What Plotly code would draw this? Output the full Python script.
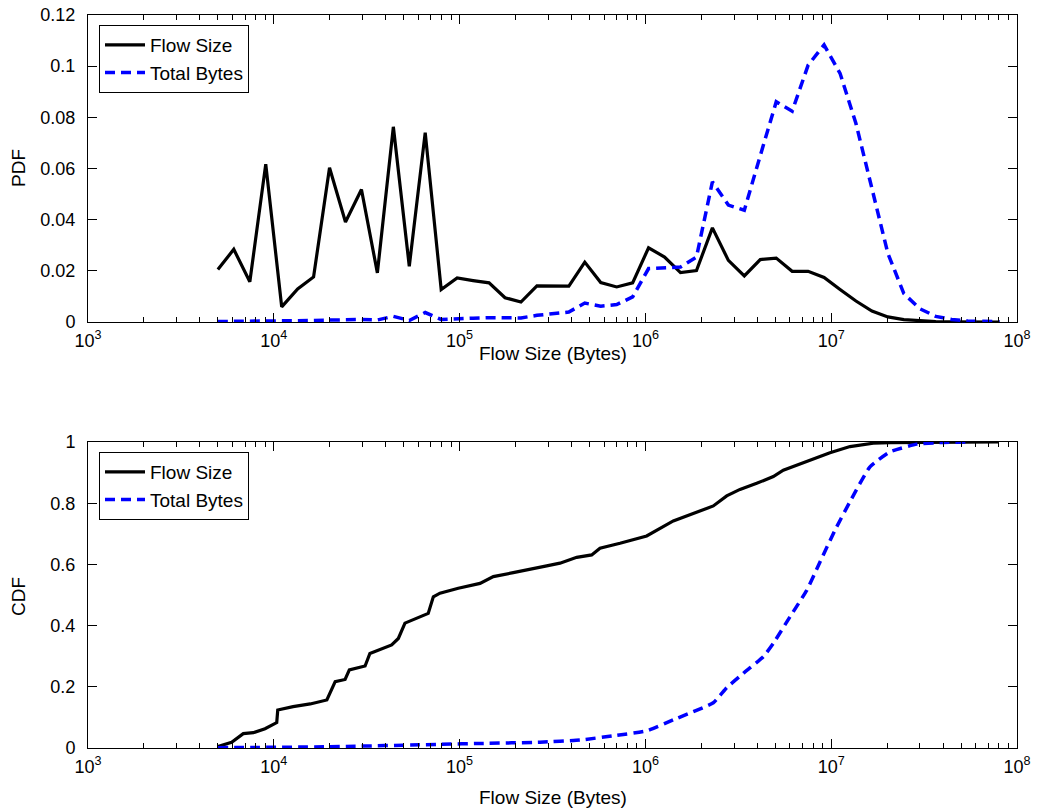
import plotly.graph_objects as go

# ---------------- data ----------------
pdf_x = [5000, 6090, 7430, 9050, 11030, 13440, 16370, 19950, 24310, 29630,
         36100, 44000, 53600, 65300, 79600, 97000, 118200, 144100, 175600, 213900,
         260700, 317700, 387200, 471800, 574900, 700600, 853700, 1040000, 1268000, 1545000,
         1883000, 2294000, 2796000, 3407000, 4151000, 5059000, 6165000, 7512000, 9155000, 11160000,
         13590000, 16570000, 20190000, 24600000, 29980000, 36530000, 44520000, 54250000, 66110000, 80560000]
pdf_flow = [0.0205, 0.0284, 0.0157, 0.0617, 0.0059, 0.0129, 0.0176, 0.0603, 0.0391, 0.0518,
            0.0192, 0.0763, 0.0218, 0.0740, 0.0127, 0.0172, 0.0162, 0.0153, 0.0095, 0.0078,
            0.0141, 0.0142, 0.0140, 0.0234, 0.0154, 0.0137, 0.0153, 0.0290, 0.0254, 0.0193,
            0.0201, 0.0368, 0.0241, 0.0180, 0.0244, 0.0250, 0.0198, 0.0198, 0.0174, 0.0127,
            0.0082, 0.0043, 0.0020, 0.0009, 0.0004, 0.0002, 0.0001, 0.0000, 0.0000, 0.0000]
pdf_bytes = [0.0002, 0.0002, 0.0003, 0.0003, 0.0004, 0.0005, 0.0006, 0.0008, 0.0009, 0.0010,
             0.0008, 0.0022, 0.0006, 0.0037, 0.0010, 0.0014, 0.0015, 0.0017, 0.0016, 0.0016,
             0.0026, 0.0033, 0.0039, 0.0074, 0.0062, 0.0068, 0.0098, 0.0209, 0.0213, 0.0215,
             0.0254, 0.0548, 0.0457, 0.0437, 0.0650, 0.0861, 0.0824, 0.1004, 0.1083, 0.0972,
             0.0776, 0.0515, 0.0268, 0.0111, 0.0052, 0.0022, 0.0010, 0.0004, 0.0002, 0.0001]

cdf_flow_x = [5000, 5930, 6850, 7760, 8970, 10370, 10500, 12700, 15700, 19300,
              21400, 24200, 25500, 31000, 32900, 43100, 46800, 50800, 67800, 72200,
              78400, 98400, 128800, 151900, 194500, 260000, 294300, 347000, 427000, 514000,
              569600, 730000, 1016000, 1413000, 1810000, 2320000, 2739000, 3229000, 3972000, 4880000,
              5524000, 7382000, 9851000, 12620000, 16850000, 20730000, 80000000]
cdf_flow_y = [0.005, 0.019, 0.047, 0.050, 0.063, 0.083, 0.124, 0.135, 0.144, 0.157,
              0.217, 0.224, 0.255, 0.268, 0.309, 0.337, 0.358, 0.408, 0.440, 0.494,
              0.506, 0.522, 0.538, 0.560, 0.573, 0.587, 0.595, 0.604, 0.623, 0.631,
              0.653, 0.669, 0.693, 0.742, 0.767, 0.791, 0.824, 0.845, 0.865, 0.887,
              0.908, 0.936, 0.965, 0.985, 0.996, 0.998, 1.0]

cdf_bytes_x = [5000, 20000, 78400, 134200, 270800, 444600, 671800, 1016000, 1413000, 2320000,
               2739000, 3365000, 4311000, 4880000, 6002000, 7382000, 8704000, 10480000, 12620000, 16170000,
               20730000, 28860000, 38520000, 53620000]
cdf_bytes_y = [0.001, 0.004, 0.012, 0.015, 0.019, 0.026, 0.040, 0.056, 0.092, 0.148,
               0.197, 0.244, 0.298, 0.342, 0.429, 0.515, 0.608, 0.712, 0.805, 0.919,
               0.968, 0.993, 0.998, 1.0]

x_tickvals = [1e3, 1e4, 1e5, 1e6, 1e7, 1e8]
x_ticktext = ["10<sup>3</sup>", "10<sup>4</sup>", "10<sup>5</sup>", "10<sup>6</sup>",
              "10<sup>7</sup>", "10<sup>8</sup>"]
x_minor = [m * 10 ** e for e in range(3, 8) for m in range(2, 10)]
pdf_ticks = [0, 0.02, 0.04, 0.06, 0.08, 0.1, 0.12]
pdf_ticktext = ["0", "0.02", "0.04", "0.06", "0.08", "0.1", "0.12"]
cdf_ticks = [0, 0.2, 0.4, 0.6, 0.8, 1]
cdf_ticktext = ["0", "0.2", "0.4", "0.6", "0.8", "1"]

x_title = "Flow Size (Bytes)"
pdf_title = "PDF"
cdf_title = "CDF"

# ---------------- figure ----------------
W, H = 1038, 811
FONT = "Liberation Sans, Arial, Helvetica, sans-serif"
BLUE = "#0000ff"
DASH = "10px,6px"

fig = go.Figure()
fig.add_trace(go.Scatter(x=pdf_x, y=pdf_flow, mode="lines", name="Flow Size",
                         line=dict(color="black", width=3.2), xaxis="x", yaxis="y",
                         legend="legend"))
fig.add_trace(go.Scatter(x=pdf_x, y=pdf_bytes, mode="lines", name="Total Bytes",
                         line=dict(color=BLUE, width=3.5, dash=DASH), xaxis="x", yaxis="y",
                         legend="legend"))
fig.add_trace(go.Scatter(x=cdf_flow_x, y=cdf_flow_y, mode="lines", name="Flow Size",
                         line=dict(color="black", width=3.2), xaxis="x2", yaxis="y2",
                         legend="legend2"))
fig.add_trace(go.Scatter(x=cdf_bytes_x, y=cdf_bytes_y, mode="lines", name="Total Bytes",
                         line=dict(color=BLUE, width=3.5, dash=DASH, shape="spline", smoothing=0.4),
                         xaxis="x2", yaxis="y2", legend="legend2"))

xdom = [88 / W, 1017 / W]


def xaxis_common(anchor):
    return dict(
        type="log", range=[3, 8], domain=xdom, anchor=anchor,
        tickmode="array", tickvals=x_tickvals, ticktext=x_ticktext,
        ticks="inside", ticklen=9, tickwidth=1, tickcolor="black",
        minor=dict(tickmode="array", tickvals=x_minor, ticks="inside", ticklen=5,
                   tickwidth=1, tickcolor="black", showgrid=False),
        showline=True, linecolor="black", linewidth=1, mirror="ticks",
        showgrid=False, zeroline=False, automargin=False,
        ticklabelstandoff=2,
        tickfont=dict(family=FONT, size=18, color="black"),
    )


def yaxis_common(anchor, dom, rng, tv, tt):
    return dict(
        domain=dom, anchor=anchor, range=rng,
        tickmode="array", tickvals=tv, ticktext=tt,
        ticks="inside", ticklen=9, tickwidth=1, tickcolor="black",
        showline=True, linecolor="black", linewidth=1, mirror="ticks",
        showgrid=False, zeroline=False, automargin=False,
        ticklabelstandoff=8,
        tickfont=dict(family=FONT, size=18, color="black"),
    )


legend_style = dict(
    bgcolor="white", bordercolor="black", borderwidth=1,
    font=dict(family=FONT, size=19, color="black"),
    xanchor="left", yanchor="top", tracegroupgap=0, itemwidth=40,
)

title_font = dict(family=FONT, size=19, color="black")
annotations = [
    dict(text=x_title, x=552.5 / W, y=(H - 353) / H, xref="paper", yref="paper",
         showarrow=False, xanchor="center", yanchor="middle", font=title_font),
    dict(text=x_title, x=552.5 / W, y=(H - 797) / H, xref="paper", yref="paper",
         showarrow=False, xanchor="center", yanchor="middle", font=title_font),
    dict(text=pdf_title, x=18 / W, y=(H - 168) / H, xref="paper", yref="paper",
         showarrow=False, xanchor="center", yanchor="middle", textangle=-90, font=title_font),
    dict(text=cdf_title, x=18 / W, y=(H - 596) / H, xref="paper", yref="paper",
         showarrow=False, xanchor="center", yanchor="middle", textangle=-90, font=title_font),
]

fig.update_layout(
    width=W, height=H,
    margin=dict(l=0, r=0, t=0, b=0),
    paper_bgcolor="white", plot_bgcolor="white",
    template="none",
    showlegend=True,
    xaxis=xaxis_common("y"),
    yaxis=yaxis_common("x", [(H - 322) / H, (H - 15) / H], [0, 0.12], pdf_ticks, pdf_ticktext),
    xaxis2=xaxis_common("y2"),
    yaxis2=yaxis_common("x2", [(H - 748) / H, (H - 442) / H], [0, 1], cdf_ticks, cdf_ticktext),
    legend=dict(x=99 / W, y=(H - 25) / H, **legend_style),
    legend2=dict(x=99 / W, y=(H - 452) / H, **legend_style),
    annotations=annotations,
)

fig.write_html("out.html")
